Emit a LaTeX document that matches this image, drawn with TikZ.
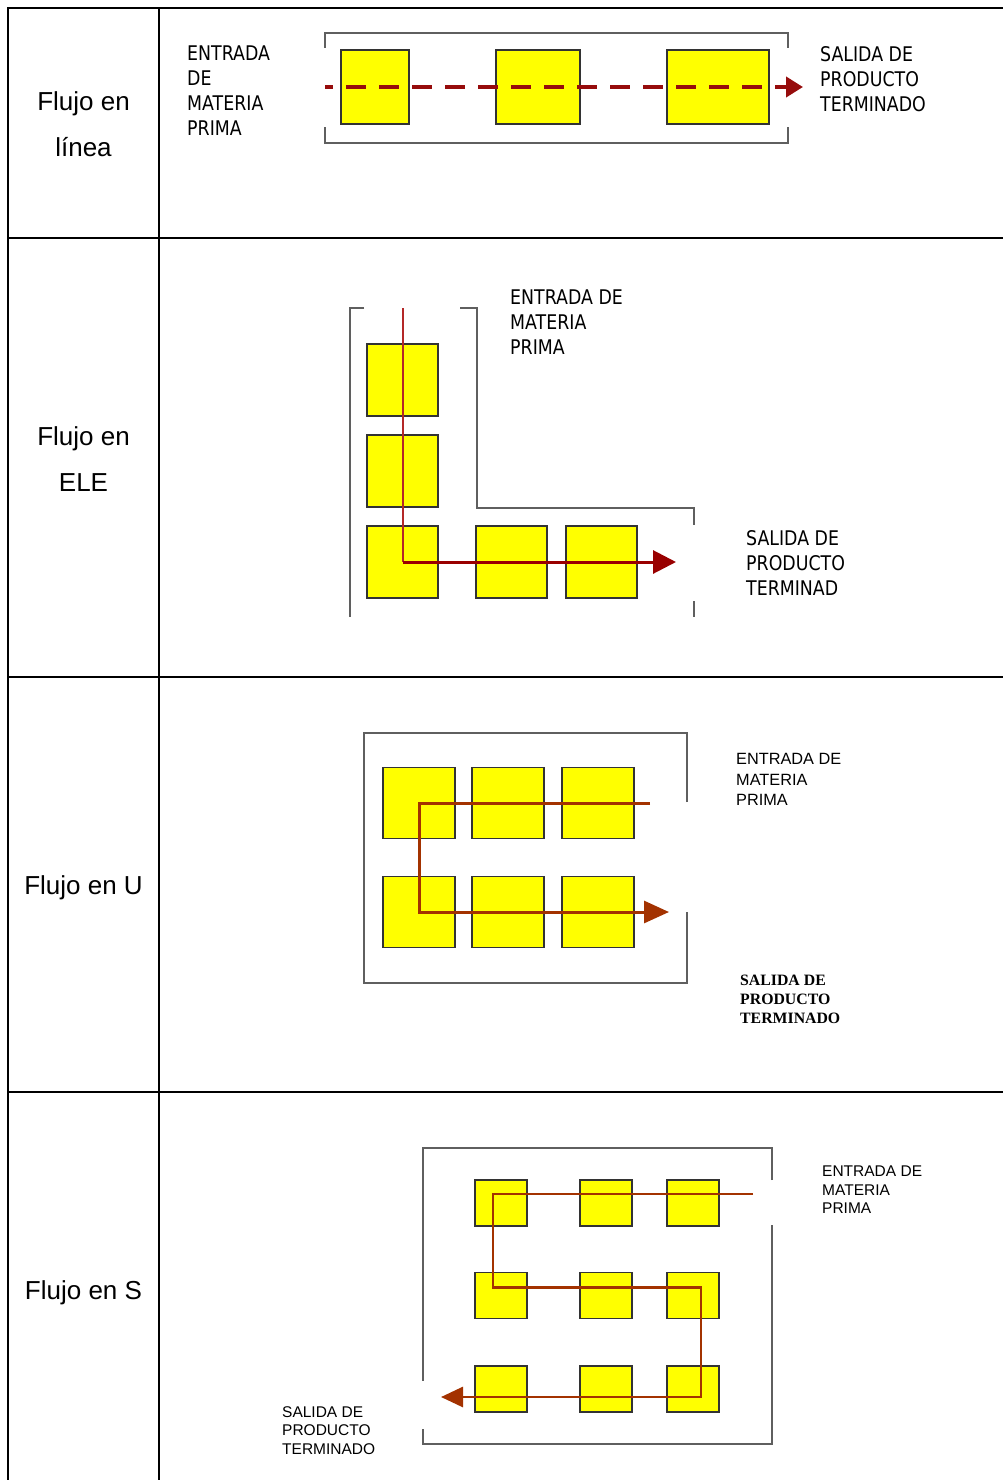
\documentclass[tikz,border=0pt]{standalone}
\usepackage{fontspec}
\setmainfont{Liberation Sans}
\newfontfamily\narrowfont[FakeStretch=0.86]{DejaVu Sans}
\newfontfamily\slabfont{Liberation Serif}
\usetikzlibrary{positioning,calc,arrows.meta}
\definecolor{boxyellow}{RGB}{255,255,0}
\definecolor{dashred}{RGB}{150,12,12}
\definecolor{elered}{RGB}{153,0,0}
\definecolor{elethin}{RGB}{180,40,40}
\definecolor{rust}{RGB}{163,50,0}
\definecolor{framegray}{RGB}{95,95,95}
\tikzset{
	my box/.style={rectangle, draw=black!80, fill=boxyellow, line width=1.8pt, inner sep=0pt, outer sep=0pt}, % the yellow work stations
	my frame/.style={draw=framegray, line width=1.8pt},
	title/.style={font=\fontsize{26}{46}\selectfont, align=center, anchor=north, inner sep=0pt},
	tag/.style={font=\narrowfont\fontsize{20.2}{25}\selectfont, align=left, anchor=north west, inner sep=0pt},
	small tag/.style={font=\fontsize{15.5}{18.5}\selectfont, align=left, anchor=north west, inner sep=0pt},
	slab tag/.style={font=\slabfont\bfseries\fontsize{15.8}{19}\selectfont, align=left, anchor=north west, inner sep=0pt}
}

\begin{document}
\begin{tikzpicture}[x=1pt,y=-1pt]
	\useasboundingbox (0,0) rectangle (1003,1480);
	\tikzset{table line/.style={line width=2.5pt, black}}
	\tikzset{line flow/.style={dashred, line width=4pt, dash pattern=on 20pt off 13pt, dash phase=12pt, -{Triangle[length=17pt,width=20pt]}}}
	\tikzset{ele in/.style={elethin, line width=2pt}}
	\tikzset{ele out/.style={elered, line width=3pt, -{Triangle[length=23pt,width=23pt]}}}
	\tikzset{u flow/.style={rust, line width=3pt, -{Triangle[length=25pt,width=22pt]}}}
	\tikzset{s flow/.style={rust, line width=2.8pt, -{Triangle[length=22pt,width=20pt]}}}
	% table
	\draw[table line] (8,1480) -- (8,8) -- (1003,8);
	\draw[table line] (159,8) -- (159,1480);
	\foreach \y in {238,677,1092} \draw[table line] (8,\y) -- (1003,\y);
	\node[title] (t1) at (83.5,91) {Flujo en\\línea};
	\node[title] (t2) at (83.5,426) {Flujo en\\ELE};
	\node[title] (t3) at (83.5,875) {Flujo en U};
	\node[title] (t4) at (83.5,1280) {Flujo en S};
	% flujo en linea
	\draw[my frame] (325,48) -- (325,33) -- (788,33) -- (788,48);
	\draw[my frame] (325,127) -- (325,143) -- (788,143) -- (788,127);
	\node[my box, minimum width=68pt, minimum height=74pt] (l1) at (375,87) {};
	\node[my box, minimum width=84pt, minimum height=74pt, right=87pt of l1] (l2) {};
	\node[my box, minimum width=102pt, minimum height=74pt, right=87pt of l2] (l3) {};
	\coordinate (lin) at (325,87);
	\coordinate (lout) at (803,87);
	\draw[line flow] (lin) -- (lout);
	\node[tag] (lentrada) at (187,46) {ENTRADA\\DE\\MATERIA\\PRIMA};
	\node[tag] (lsalida) at (820,46) {SALIDA DE\\PRODUCTO\\TERMINADO};
	% flujo en ELE
	\draw[my frame] (364,308) -- (350,308) -- (350,617);
	\draw[my frame] (460,308) -- (477,308) -- (477,508) -- (694,508) -- (694,525);
	\draw[my frame] (694,601) -- (694,617);
	\tikzset{ele box/.style={my box, minimum width=71pt, minimum height=72pt}}
	\node[ele box] (e1) at (402.5,380) {};
	\node[ele box, below=19pt of e1] (e2) {};
	\node[ele box, below=19pt of e2] (e3) {};
	\node[ele box, right=38pt of e3] (e4) {};
	\node[ele box, right=19pt of e4] (e5) {};
	\coordinate (ein) at (402.5,308);
	\coordinate (eout) at (676,563);
	\draw[ele in] (ein) -- (e3.center);
	\draw[ele out] (e3.center) -- (e3.center -| eout);
	\node[tag] (eentrada) at (510,290) {ENTRADA DE\\MATERIA\\PRIMA};
	\node[tag] (esalida) at (746,530) {SALIDA DE\\PRODUCTO\\TERMINAD};
	% flujo en U
	\draw[my frame] (687,802) -- (687,733) -- (364,733) -- (364,983) -- (687,983) -- (687,912);
	\tikzset{u box/.style={my box, minimum width=72pt, minimum height=71pt}}
	\node[u box] (u1) at (419,803) {};
	\node[u box, right=17pt of u1] (u2) {};
	\node[u box, right=18pt of u2] (u3) {};
	\node[u box, below=38pt of u1] (u4) {};
	\node[u box, right=17pt of u4] (u5) {};
	\node[u box, right=18pt of u5] (u6) {};
	\coordinate (uin) at (650,803);
	\coordinate (uout) at (669,912);
	\draw[u flow] (uin) -| (u4.center) -- (u4.center -| uout);
	\node[small tag, font=\fontsize{16.3}{20.7}\selectfont] (uentrada) at (736,753) {ENTRADA DE\\MATERIA\\PRIMA};
	\node[slab tag] (usalida) at (740,975) {SALIDA DE\\PRODUCTO\\TERMINADO};
	% flujo en S
	\draw[my frame] (772,1180) -- (772,1148) -- (423,1148) -- (423,1381);
	\draw[my frame] (772,1225) -- (772,1444) -- (423,1444) -- (423,1429);
	\tikzset{s box/.style={my box, minimum width=52pt, minimum height=46pt}}
	\node[s box] (s1) at (501,1203) {};
	\node[s box, right=53pt of s1] (s2) {};
	\node[s box, right=35pt of s2] (s3) {};
	\node[s box, below=46.5pt of s1] (s4) {};
	\node[s box, right=53pt of s4] (s5) {};
	\node[s box, right=35pt of s5] (s6) {};
	\node[s box, below=47.5pt of s4] (s7) {};
	\node[s box, right=53pt of s7] (s8) {};
	\node[s box, right=35pt of s8] (s9) {};
	\coordinate (sin) at (753,1194);
	\coordinate (sout) at (441,1397);
	\draw[s flow] (sin) -- ($(s1.center)+(-8,-9)$) |- ($(s6.center)+(8,-8)$) |- (sout);
	\node[small tag] (sentrada) at (822,1166) {ENTRADA DE\\MATERIA\\PRIMA};
	\node[small tag] (ssalida) at (282,1406) {SALIDA DE\\PRODUCTO\\TERMINADO};
\end{tikzpicture}
\end{document}
